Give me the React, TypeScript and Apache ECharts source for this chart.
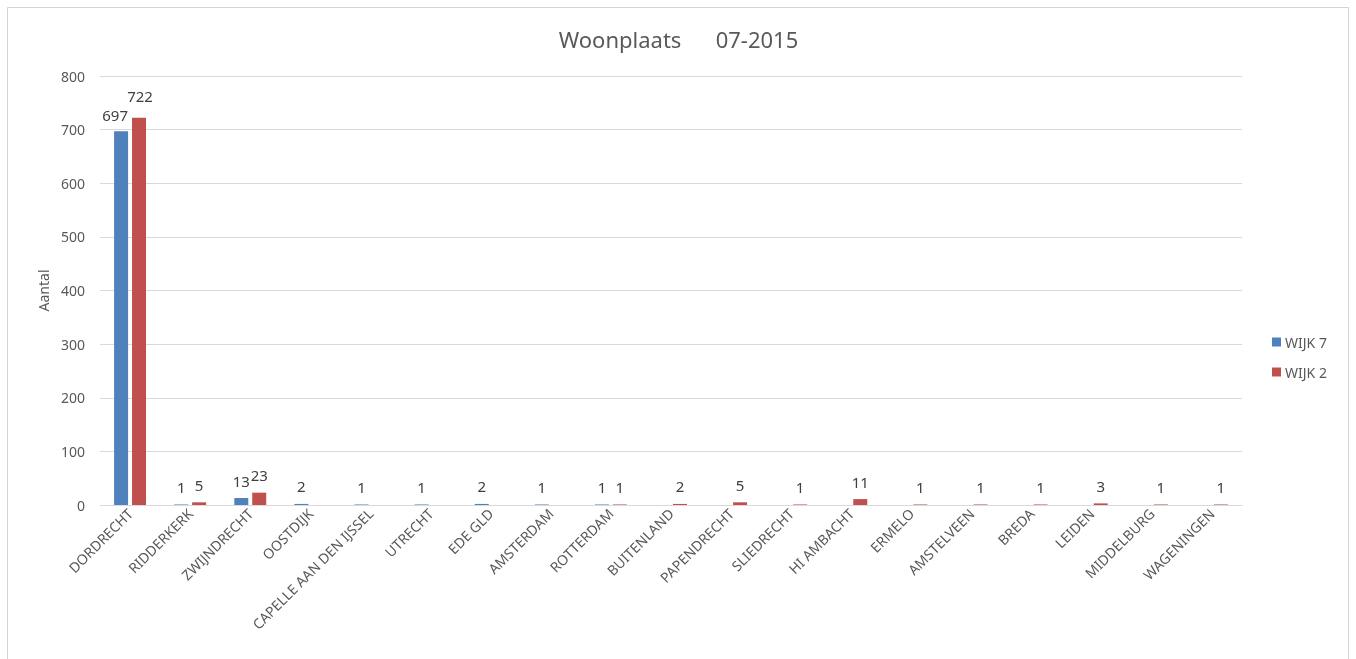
import React, { useEffect, useRef } from "react";
import * as echarts from "echarts";

const categories = [
  "DORDRECHT", "RIDDERKERK", "ZWIJNDRECHT", "OOSTDIJK", "CAPELLE AAN DEN IJSSEL",
  "UTRECHT", "EDE GLD", "AMSTERDAM", "ROTTERDAM", "BUITENLAND", "PAPENDRECHT",
  "SLIEDRECHT", "HI AMBACHT", "ERMELO", "AMSTELVEEN", "BREDA", "LEIDEN",
  "MIDDELBURG", "WAGENINGEN",
];
const wijk7: (number | string)[] = [697, 1, 13, 2, 1, 1, 2, 1, 1, "-", "-", "-", "-", "-", "-", "-", "-", "-", "-"];
const wijk2: (number | string)[] = [722, 5, 23, "-", "-", "-", "-", "-", 1, 2, 5, 1, 11, 1, 1, 1, 3, 1, 1];
const yTicks = { min: 0, max: 800, interval: 100 };

const FONT = "Noto Sans";
const TXT = "#595959";

export default function App() {
  const ref = useRef<HTMLDivElement>(null);
  useEffect(() => {
    if (!ref.current) return;
    const chart = echarts.init(ref.current, undefined, { renderer: "svg" });
    const label = { show: true, position: "top", color: "#404040", fontSize: 15, fontFamily: FONT, distance: 10 };
    const d7 = wijk7.map((v, i) => (i === 0 ? { value: v, label: { offset: [-6, 1] } } : v));
    const d2 = wijk2.map((v, i) => (i === 0 ? { value: v, label: { offset: [1, -4] } } : v));
    chart.setOption({
      animation: false,
      textStyle: { fontFamily: FONT },
      graphic: [
        {
          type: "rect",
          shape: { x: 0.5, y: 0.5, width: 1341, height: 670 },
          style: { fill: "none", stroke: "#d4d4d4", lineWidth: 1 },
          silent: true,
        },
      ],
      title: {
        text: "Woonplaats\u00a0\u00a0\u00a0\u00a0\u00a0\u00a007-2015",
        left: "center",
        top: 16,
        textStyle: { fontSize: 22, fontWeight: "normal", color: TXT, fontFamily: FONT },
      },
      legend: {
        orient: "vertical",
        left: 1260,
        top: 323,
        itemWidth: 9,
        itemHeight: 9,
        itemGap: 16,
        icon: "rect",
        textStyle: { color: TXT, fontSize: 14, fontFamily: FONT, padding: [0, 0, 0, -1] },
        data: ["WIJK 7", "WIJK 2"],
      },
      grid: { left: 93, right: 108, top: 69, bottom: 162, containLabel: false },
      xAxis: {
        type: "category",
        data: categories,
        axisTick: { show: false },
        axisLine: { lineStyle: { color: "#d9d9d9" } },
        axisLabel: { rotate: 45, interval: 0, color: TXT, fontSize: 14, fontFamily: FONT, margin: 6 },
      },
      yAxis: {
        type: "value",
        min: yTicks.min,
        max: yTicks.max,
        interval: yTicks.interval,
        name: "Aantal",
        nameLocation: "middle",
        nameGap: 48,
        nameTextStyle: { color: TXT, fontSize: 14, fontFamily: FONT },
        axisLine: { show: false },
        axisTick: { show: false },
        axisLabel: { color: TXT, fontSize: 14, fontFamily: FONT, margin: 15 },
        splitLine: { lineStyle: { color: "#d9d9d9" } },
      },
      series: [
        { name: "WIJK 7", type: "bar", data: d7, barWidth: 14, barGap: "28%", itemStyle: { color: "#4F81BD" }, label },
        { name: "WIJK 2", type: "bar", data: d2, barWidth: 14, barGap: "28%", itemStyle: { color: "#C0504D" }, label },
      ],
    });
    return () => chart.dispose();
  }, []);
  return <div ref={ref} style={{ position: "fixed", left: 7, top: 7, width: 1343, height: 660 }} />;
}
